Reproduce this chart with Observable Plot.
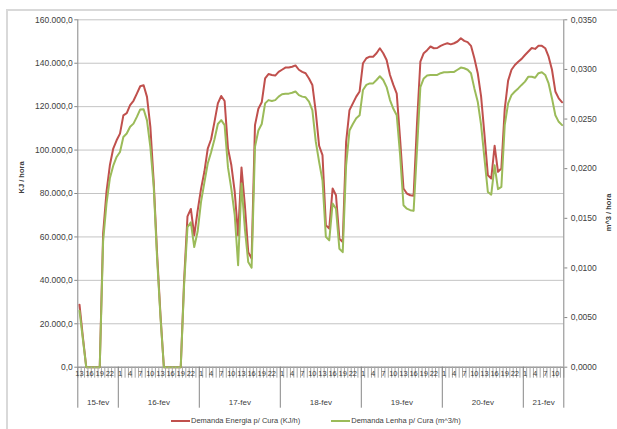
<!DOCTYPE html>
<html>
<head>
<meta charset="utf-8">
<script src="https://cdn.jsdelivr.net/npm/d3@7"></script>
<script src="https://cdn.jsdelivr.net/npm/@observablehq/plot@0.6"></script>
<style>
  body { margin: 0; background: #fff; font-family: "Liberation Sans", Arial, sans-serif; }
  #wrap { position: relative; width: 617px; height: 429px; overflow: hidden; }
  #border { position: absolute; left: 6px; top: 9px; width: 700px; height: 600px; border: 2px solid #d9d9d9; box-sizing: border-box; }
  #chart { position: absolute; left: 0; top: 0; }
  #legend { position: absolute; left: 171px; top: 416px; font-size: 7.5px; color: #404040; display: flex; align-items: center; white-space: nowrap; }
  #legend .item { display: flex; align-items: center; margin-right: 31px; }
  #legend .key { display: inline-block; width: 19px; height: 2px; margin-right: 1px; }
</style>
</head>
<body>
<div id="wrap">
  <div id="border"></div>
  <div id="chart"></div>
  <div id="legend"></div>
</div>
<script>
// Days on the category axis and the hour range recorded on each of them
const days = ["15-fev", "16-fev", "17-fev", "18-fev", "19-fev", "20-fev", "21-fev"];
const firstHour = [13, 1, 1, 1, 1, 1, 1];
const lastHour = [24, 24, 24, 24, 24, 24, 12];

// Demanda Energia p/ Cura (KJ/h), one value per hour
const energia = [
  28800, 14000, 0, 0, 0, 0, 0, 61500, 80700, 93000, 100700, 104500,
  107600, 116000, 117000, 120700, 122700, 126000, 129400, 129900, 124500, 110700, 85000, 52000,
  24000, 0, 0, 0, 0, 0, 0, 40000, 69500, 72900, 60700, 72000,
  82000, 90000, 100700, 105000, 113000, 121500, 124900, 122600, 100700, 93000, 80700, 60700,
  92000, 74600, 53000, 50000, 111500, 119000, 122000, 133000, 135000, 134600, 134300, 136000,
  137000, 138000, 138000, 138400, 139000, 137000, 136000, 135400, 133000, 130000, 117700, 102000,
  97700, 65400, 63800, 82300, 79200, 59200, 57700, 103800, 118400, 121500, 124600, 127000,
  140000, 142300, 143000, 143000, 144600, 146900, 144600, 141500, 134600, 130000, 126000, 105000,
  82300, 80000, 79200, 79000, 112000, 140700, 144600, 146000, 147700, 146900, 147000, 148000,
  148700, 149200, 148700, 149200, 150000, 151500, 150300, 149700, 148000, 142300, 135400, 124600,
  107000, 88400, 86900, 102000, 90000, 91500, 119000, 132000, 137000, 139200, 140700, 142000,
  143800, 145400, 147000, 146600, 148000, 148000, 146900, 143000, 137000, 127000, 123800, 122000
];

// Demanda Lenha p/ Cura (m^3/h), one value per hour
const lenha = [
  0.00569, 0.00284, 0, 0, 0, 0, 0, 0.01269, 0.01647, 0.01903, 0.02030, 0.02118,
  0.02168, 0.02319, 0.02354, 0.02422, 0.02454, 0.02522, 0.02597, 0.02599, 0.02487, 0.02218, 0.01816, 0.01094,
  0.00503, 0, 0, 0, 0, 0, 0, 0.00831, 0.01411, 0.01459, 0.01210, 0.01367,
  0.01663, 0.01859, 0.02052, 0.02166, 0.02297, 0.02450, 0.02489, 0.02439, 0.02013, 0.01794, 0.01531, 0.01028,
  0.01851, 0.01396, 0.01059, 0.01002, 0.02220, 0.02384, 0.02450, 0.02658, 0.02691, 0.02682, 0.02691, 0.02726,
  0.02750, 0.02756, 0.02756, 0.02765, 0.02778, 0.02741, 0.02726, 0.02719, 0.02675, 0.02590, 0.02275, 0.02069,
  0.01881, 0.01313, 0.01278, 0.01649, 0.01597, 0.01194, 0.01159, 0.02034, 0.02384, 0.02450, 0.02507, 0.02538,
  0.02793, 0.02844, 0.02859, 0.02859, 0.02894, 0.02931, 0.02894, 0.02822, 0.02691, 0.02603, 0.02538, 0.02137,
  0.01632, 0.01597, 0.01582, 0.01575, 0.02188, 0.02822, 0.02909, 0.02938, 0.02944, 0.02944, 0.02944, 0.02962,
  0.02971, 0.02971, 0.02975, 0.02975, 0.02997, 0.03019, 0.03012, 0.02997, 0.02962, 0.02809, 0.02675, 0.02439,
  0.02100, 0.01765, 0.01739, 0.02034, 0.01794, 0.01816, 0.02439, 0.02658, 0.02741, 0.02778, 0.02809, 0.02844,
  0.02877, 0.02927, 0.02927, 0.02916, 0.02962, 0.02971, 0.02944, 0.02859, 0.02708, 0.02538, 0.02472, 0.02439
];

// Axis ticks: left in KJ/h, right in m^3/h
const leftTicks = [0, 20000, 40000, 60000, 80000, 100000, 120000, 140000, 160000];
const rightTicks = [0, 0.005, 0.010, 0.015, 0.020, 0.025, 0.030, 0.035];
const hourLabelStep = 3;

const series = [
  {name: "Demanda Energia p/ Cura (KJ/h)", color: "#C0504D"},
  {name: "Demanda Lenha p/ Cura (m^3/h)", color: "#9BBB59"}
];

// One row per hourly category
const rows = [];
days.forEach((day, d) => {
  for (let h = firstHour[d]; h <= lastHour[d]; h++) {
    const i = rows.length;
    rows.push({i, day, hour: h, energia: energia[i], lenha: lenha[i]});
  }
});
const N = rows.length;

// The right axis shares the frame with the left one
const k = d3.max(leftTicks) / d3.max(rightTicks);

// Day groups: boundaries and centres on the category axis
const dayBounds = [0];
const dayCenters = [];
days.forEach((day, d) => {
  const start = dayBounds[dayBounds.length - 1];
  const n = lastHour[d] - firstHour[d] + 1;
  dayCenters.push({pos: start + n / 2, day});
  dayBounds.push(start + n);
});
const hourTicks = rows.filter(r => r.i % hourLabelStep === 0).map(r => r.i + 0.5);

const loc = d3.formatLocale({decimal: ",", thousands: ".", grouping: [3], currency: ["R$", ""]});
const fmtLeft = loc.format(",.1f");
const fmtRight = loc.format(".4f");

const axisColor = "#868686";
const textColor = "#404040";

const chart = Plot.plot({
  width: 617,
  height: 412,
  marginLeft: 77.3,
  marginRight: 53.7,
  marginTop: 19.3,
  marginBottom: 45.3,
  style: {fontFamily: "Liberation Sans, Arial, sans-serif", background: "transparent"},
  x: {type: "linear", domain: [0, N]},
  y: {domain: [d3.min(leftTicks), d3.max(leftTicks)]},
  marks: [
    Plot.ruleY(leftTicks, {stroke: "#c4c4c4", strokeWidth: 1}),
    Plot.ruleX([0, N], {stroke: axisColor}),
    Plot.ruleY([0], {stroke: axisColor}),
    Plot.line(rows, {x: d => d.i + 0.5, y: "energia", stroke: series[0].color, strokeWidth: 2, strokeLinejoin: "round"}),
    Plot.line(rows, {x: d => d.i + 0.5, y: d => d.lenha * k, stroke: series[1].color, strokeWidth: 2, strokeLinejoin: "round"}),
    Plot.axisY({anchor: "left", ticks: leftTicks, tickSize: 3, tickPadding: 2, tickFormat: fmtLeft, label: null,
      stroke: axisColor, fill: textColor, fontSize: 8.5}),
    Plot.axisY({anchor: "right", ticks: rightTicks.map(v => v * k), tickSize: 3, tickPadding: 4,
      tickFormat: v => fmtRight(v / k), label: null, stroke: axisColor, fill: textColor, fontSize: 8.5}),
    Plot.axisX({ticks: d3.range(N + 1), tickSize: 11, tickFormat: () => "", label: null, stroke: "#a6a6a6"}),
    Plot.axisX({ticks: dayBounds, tickSize: 41, tickFormat: () => "", label: null, stroke: axisColor}),
    Plot.axisX({ticks: hourTicks, tickSize: 0, tickPadding: 3.5, label: null, fill: textColor, fontSize: 7.5,
      tickFormat: v => String(rows[Math.floor(v)].hour)}),
    Plot.axisX({ticks: dayCenters.map(d => d.pos), tickSize: 0, tickPadding: 32, label: null, fill: textColor, fontSize: 8,
      tickFormat: v => dayCenters.find(d => d.pos === v).day}),
    Plot.text(["KJ / hora"], {frameAnchor: "left", rotate: -90, dx: -56, fontWeight: "bold", fontSize: 7.5, fill: textColor}),
    Plot.text(["m^3 / hora"], {frameAnchor: "right", rotate: -90, dx: 45, fontWeight: "bold", fontSize: 7.5, fill: textColor})
  ]
});
document.getElementById("chart").appendChild(chart);

// Legend below the plot
const legend = document.getElementById("legend");
series.forEach(s => {
  const item = document.createElement("span");
  item.className = "item";
  const key = document.createElement("span");
  key.className = "key";
  key.style.background = s.color;
  item.appendChild(key);
  item.appendChild(document.createTextNode(s.name));
  legend.appendChild(item);
});
</script>
</body>
</html>
